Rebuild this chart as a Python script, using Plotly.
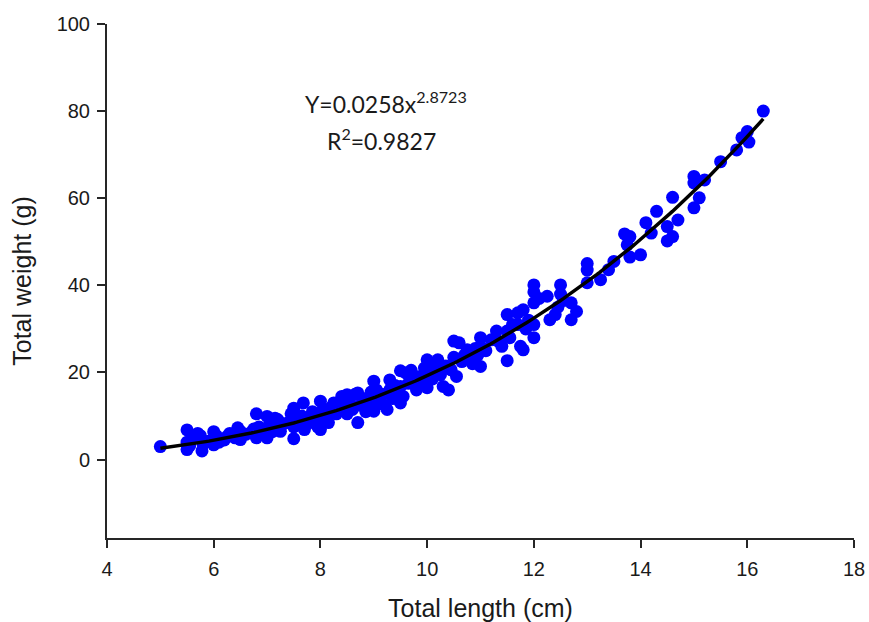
import numpy as np
import plotly.graph_objects as go

# Observed data: total length (cm) and total weight (g)
length_cm = [
    5.0, 5.5, 5.5, 5.5, 5.55, 5.6, 5.7, 5.75, 5.78, 5.8, 5.9, 6.0, 6.0, 6.0, 6.05,
    6.1, 6.2, 6.25, 6.3, 6.4, 6.45, 6.5, 6.5, 6.6, 6.7, 6.75, 6.8, 6.8, 6.85, 6.9, 7.0, 7.0, 7.0, 7.05,
    7.1, 7.15, 7.2, 7.2, 7.25, 7.3, 7.4, 7.45, 7.5, 7.5, 7.5, 7.55, 7.6, 7.65, 7.68, 7.7, 7.75, 7.8, 7.85, 7.9, 7.95, 8.0, 8.0, 8.0,
    8.05, 8.1, 8.15, 8.2, 8.25, 8.3, 8.35, 8.4, 8.45, 8.5, 8.5, 8.55, 8.6, 8.65, 8.7, 8.7, 8.75, 8.8, 8.85, 8.9, 8.95, 9.0, 9.0, 9.0,
    9.05, 9.1, 9.15, 9.2, 9.25, 9.3, 9.3, 9.35, 9.4, 9.45, 9.5, 9.5, 9.5, 9.55, 9.6, 9.65, 9.7, 9.75, 9.8, 9.85, 9.9, 9.95, 10.0, 10.0, 10.0,
    10.05, 10.1, 10.15, 10.2, 10.25, 10.3, 10.35, 10.4, 10.45, 10.5, 10.5, 10.55, 10.6, 10.65, 10.7, 10.75, 10.8, 10.85, 10.9, 10.95, 11.0, 11.0, 11.0,
    11.1, 11.2, 11.3, 11.35, 11.4, 11.5, 11.5, 11.5, 11.55, 11.6, 11.7, 11.7, 11.75, 11.8, 11.8, 11.85, 11.9, 12.0, 12.0, 12.0, 12.0, 12.0,
    12.1, 12.25, 12.3, 12.4, 12.45, 12.5, 12.5, 12.55, 12.7, 12.7, 12.8, 13.0, 13.0, 13.0,
    13.25, 13.4, 13.5, 13.7, 13.75, 13.8, 13.8, 14.0,
    14.1, 14.2, 14.3, 14.5, 14.5, 14.6, 14.6, 14.7, 15.0, 15.0, 15.0, 15.1, 15.2,
    15.5, 15.8, 15.9, 16.0, 16.03, 16.3,
]
weight_g = [
    3.0, 6.8, 2.3, 4.0, 3.2, 5.0, 6.0, 5.5, 2.0, 3.5, 4.2, 6.4, 3.4, 4.8, 5.5,
    4.0, 4.5, 5.3, 6.0, 5.0, 7.3, 4.6, 6.5, 5.8, 6.2, 7.0, 10.5, 5.0, 7.5, 6.0, 9.9, 5.0, 7.0, 8.0,
    6.4, 9.5, 9.2, 7.5, 6.5, 8.2, 8.5, 10.5, 11.8, 4.8, 7.5, 9.0, 8.0, 10.0, 13.0, 6.9, 9.5, 8.5, 11.0, 9.8, 7.5, 13.4, 6.9, 10.0,
    11.5, 9.9, 8.5, 12.0, 13.0, 10.5, 11.5, 14.5, 12.5, 14.9, 10.5, 13.0, 11.5, 15.0, 8.5, 15.3, 12.5, 14.0, 11.0, 13.5, 15.5, 18.0, 11.1, 14.0,
    16.0, 13.0, 15.0, 12.5, 11.5, 18.3, 16.0, 14.0, 17.0, 15.5, 20.4, 16.8, 13.0, 14.5, 19.9, 17.5, 20.5, 18.0, 16.0, 19.0, 17.5, 21.0, 22.9, 16.5, 19.5,
    21.0, 18.5, 20.5, 22.9, 19.5, 16.8, 21.5, 16.0, 20.6, 27.2, 23.5, 19.1, 26.8, 22.5, 24.0, 25.2, 23.0, 22.0, 25.5, 24.0, 28.0, 21.4, 26.0,
    25.0, 27.5, 29.5, 27.0, 26.0, 33.3, 22.7, 29.5, 28.0, 31.0, 31.0, 33.7, 26.0, 34.4, 25.2, 30.0, 32.0, 40.1, 31.0, 28.0, 36.0, 38.5,
    37.0, 37.5, 32.1, 33.3, 35.0, 40.1, 38.0, 36.5, 36.0, 32.1, 34.0, 45.0, 40.6, 43.5,
    41.3, 43.6, 45.5, 51.8, 49.3, 51.2, 46.5, 47.0,
    54.4, 52.0, 57.0, 50.2, 53.5, 60.2, 51.2, 55.0, 65.0, 63.5, 57.8, 60.1, 64.2,
    68.4, 71.1, 73.9, 75.3, 72.9, 80.0,
]

# Power trendline as displayed on the chart
fit_a = 0.0258
fit_b = 2.8723
fit_r2 = 0.9827

x_ticks = [4, 6, 8, 10, 12, 14, 16, 18]
y_ticks = [0, 20, 40, 60, 80, 100]

fit_x = np.linspace(min(length_cm), max(length_cm), 200)
fit_y = fit_a * fit_x ** fit_b

fig = go.Figure()
fig.add_trace(go.Scatter(
    x=length_cm, y=weight_g, mode="markers",
    marker=dict(color="#0000FF", size=13, line=dict(width=0)),
    showlegend=False, hoverinfo="x+y",
))
fig.add_trace(go.Scatter(
    x=fit_x, y=fit_y, mode="lines",
    line=dict(color="black", width=3.5),
    showlegend=False, hoverinfo="skip",
))

axis_font = dict(family="Liberation Sans, Arial, sans-serif", size=20, color="#1a1a1a")
title_font = dict(family="Liberation Sans, Arial, sans-serif", size=25, color="#1a1a1a")
note_font = dict(family="Lato, Open Sans, sans-serif", size=23, color="#1a1a1a")

fig.update_layout(
    width=869, height=622,
    margin=dict(l=107, r=15, t=24, b=84),
    paper_bgcolor="white", plot_bgcolor="white",
    xaxis=dict(
        range=[4, 18], tickvals=x_ticks, ticktext=[str(v) for v in x_ticks],
        automargin=False,
        showgrid=False, zeroline=False, showline=True, linecolor="#262626", linewidth=2,
        ticks="outside", ticklen=8, tickwidth=1.5, tickcolor="#262626",
        tickfont=axis_font, ticklabelstandoff=4,
        title=dict(text="Total length (cm)", font=title_font, standoff=20),
    ),
    yaxis=dict(
        range=[-18, 100], tickvals=y_ticks, ticktext=[str(v) for v in y_ticks],
        automargin=False,
        showgrid=False, zeroline=False, showline=True, linecolor="#262626", linewidth=2,
        ticks="outside", ticklen=8, tickwidth=1.5, tickcolor="#262626",
        tickfont=axis_font, ticklabelstandoff=3,
        title=dict(text="Total weight (g)", font=title_font, standoff=18),
    ),
    annotations=[
        dict(x=9.22, y=81.9, xref="x", yref="y", showarrow=False,
             text="Y=%.4fx<sup>%.4f</sup>" % (fit_a, fit_b), font=note_font),
        dict(x=9.15, y=73.4, xref="x", yref="y", showarrow=False,
             text="R<sup>2</sup>=%.4f" % fit_r2, font=note_font),
    ],
)

fig.write_html("out.html")
